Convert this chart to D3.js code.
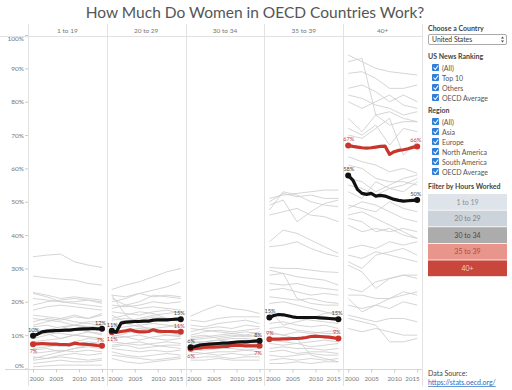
<!DOCTYPE html>
<html><head><meta charset="utf-8">
<script src="https://cdn.jsdelivr.net/npm/d3@7/dist/d3.min.js"></script>
<style>
body{margin:0;background:#fff;}
svg{display:block;font-family:Lato,"Open Sans",sans-serif;}
</style></head>
<body><svg id="c" width="512" height="390"></svg>
<script>
// ---------- DATA ----------
const bands = ["1 to 19","20 to 29","30 to 34","35 to 39","40+"];
const years = d3.range(2000,2016);
const sampleYears = [2000,2003,2006,2009,2012,2015];
const yTicks = [0,10,20,30,40,50,60,70,80,90,100];
const xTicks = [2000,2005,2010,2015];

// highlighted series (yearly, %)
const oecdSeries = [
 [9.8,10.3,11,11.2,11.3,11.4,11.4,11.5,11.5,11.7,11.8,11.9,11.9,12,11.9,11.9],
 [11.3,11,13.6,13.9,14,14.1,14.1,14.2,14.2,14.5,14.6,14.6,14.6,14.7,14.8,14.8],
 [6.4,6.6,7,7.2,7.3,7.4,7.5,7.6,7.6,7.8,7.9,8,8,8.1,8.2,8.3],
 [15.3,15.9,16.2,16.1,15.8,15.5,15.3,15.3,15.3,15.3,15.3,15.2,15.1,15,14.9,14.8],
 [57.9,56.5,53.7,52.5,52.2,52.5,51.7,51.9,51.7,51.2,50.7,50.4,50.2,50.3,50.4,50.5]
];
const usSeries = [
 [7.3,7.4,7.5,7.4,7.3,7.3,7.2,7.2,7.1,7.6,7.4,7.3,7.2,7.1,6.9,6.8],
 [10.9,10.8,11.1,11.3,11.6,11.2,11,11,11.1,11.6,11.2,11.1,11.1,11.1,11,11],
 [5.9,6,6.1,6.3,6.4,6.4,6.5,6.6,6.6,7,6.9,6.9,6.8,6.8,6.8,6.8],
 [8.8,8.8,8.8,8.9,8.9,9,9,9.1,9.3,9.6,9.7,9.6,9.5,9.4,9.2,9],
 [66.9,66.6,66.4,66.2,66.1,66.2,66.4,66.6,66.7,64.2,65,65.4,65.6,65.9,66.3,66.6]
];
const oecdLabels = [["10%","12%"],["11%","15%"],["6%","8%"],["15%","15%"],["58%","50%"]];
const usLabels = [["7%","7%"],["11%","11%"],["6%","7%"],["9%","9%"],["67%","66%"]];

// other countries (values at sampleYears, %)
const grayBand1 = [
 [33.5,34,34.3,32,31,30.3],[27.7,27.2,26.8,26.5,25.5,25],[22.8,22,21,21.5,21,20.5],
 [22.5,21.5,20,19.5,19,18.5],[21,20.5,20,20,20.5,19.5],[19,20,20.5,21,20.5,20],
 [17.5,18.5,19,18.5,18,17.5],[14,15,14.5,15.5,15,16],[13,14,15,16,15,16.5],
 [12.5,13,12,13,14,14],[15,14.5,14,13,12.5,12],[11,11.5,12.5,13,12.5,13],
 [10,10.5,9,10,11,10.5],[9,10,11,12,11,10],[8,8.5,9,10,9.5,9],[6,6.5,7,8,9,8.5],
 [5.5,6,5,6,6.5,6],[4.5,5,5.5,5,5.5,5],[3.5,3,4,4.5,4,4.5],[2.5,3,3.5,3,2.5,3],
 [1.5,2,2.5,2,2,2.5],[0.5,0.8,1,1,1,1],[7,7.5,6.5,7,8,7.5],[12,11,10.5,10,9.5,9],
 [16,15.5,15,14,13.5,13],[3,4,5,6,7,7.5]
];
const grayBand2 = [
 [23.7,25,26,27.5,29,30],[22,21.5,22.5,23.5,24.5,26],[21,19,20,22,21.5,21],
 [20,21,22.5,21.5,22,21.5],[19,18.5,19,20,19.5,20],[18,19,18,18.5,18,17.5],
 [17,16.5,16,17,17.5,16.5],[16,14,15,16,16.5,17],[14.5,15,14.5,15.5,15,15],
 [13,13.5,12.5,12,12.5,13],[12,12.5,13,13.5,13,12.5],[22,16,13,11,10,9.5],
 [10,9.5,10,9,8.5,9],[9,9.5,8.5,9.5,10,10],[8,7.5,7,7.5,8,7.5],[7,7.5,8,7,6.5,6],
 [6,5.5,5,5.5,5,5.5],[5,4,3.5,4,4.5,4],[4,3.5,3,2.5,3,3.5],[3,2,1.5,2,2.5,3],
 [11,11.5,12,11.5,11,11.5],[15,16,17,16.5,15,14],[9.5,10.5,11.5,12,11,10],[6.5,7,6,6.5,7,7]
];
const grayBand3 = [
 [15.7,17.5,19,18,17.5,16.5],[14.5,14,15,15.5,15.5,15.5],[13,12.5,13.5,14,14.5,13.5],
 [11,12,12.5,12,13,12.5],[10,11,11.5,11,11.5,12],[9,9.5,10,10.5,10,11],
 [8.5,9,9.5,10,9.5,10],[8,8,8.5,9,9,8.5],[7,7.5,7,8,8.5,8],[6.5,6,6.5,6.5,7,7.5],
 [5.5,5.5,6,6,5.5,6],[5,4.5,5,5,5.5,5],[4,4.5,4,4.5,4,4.5],[3,3.5,3.5,3,3.5,3.5],
 [2.5,2.5,3,2.5,2.5,2.5],[9.5,10,9,9.5,10,9.5],[7.5,8,8.5,8,7.5,7],[6,7,7.5,7,6.5,6.5],
 [12,11.5,11,10.5,11,10.5]
];
const grayBand4 = [
 [51,52,52.5,53,53.5,53.5],[50,52.5,51.5,52,51,51],[49,50.5,44,47,49.5,50.5],
 [47.5,53,52,50,49,48.5],[46,47,48,46,45.5,44],[38,41.5,40.5,38.5,36.5,34.5],
 [36.5,37,38,36,34.5,33.5],[30.3,30,30,29.5,29,28.8],[29.5,28.5,21,19.5,19,19],
 [28,28.5,27.5,27,26.5,25],[25.5,25,25.5,24.5,24,23.5],[23.5,24,23,22,22.5,22],
 [21.5,21,20.5,21,20,19.5],[19.5,20,19,18,17,16],[17.5,13,14,15,16.5,17],
 [16.5,16,15,14.5,14,13.5],[13.5,14,13,12.5,13,12],[12,12.5,11.5,11,10.5,10.5],
 [10.5,10,11,10.5,11,11.5],[8.5,8,7.5,8,8.5,8],[7.5,7,7.5,6.5,7,7.5],[6,6.5,6,6,5.5,6],
 [5,5.5,4.5,5,5,4.5],[4,3.5,4,4.5,4,4],[2.5,3,2.5,3,2.5,3],[1.5,1.5,2,1.5,2,2],
 [11,10,9,4,3,2]
];
const grayBand5 = [
 [94,92,90,89,88.5,88],[92,93,76,77,75,74],[88.5,89,87,84,84,85],[84,85,83,80,82,80],
 [82,81,79,78,76,77],[80,78,80,82,79,78],[75,71,76,73,74,74],[72,70,73,67,72,71],
 [70,69,72,75,64,68],[63.5,62,61,59,60,58.5],[61,60,57,56,56,55],[57,56,53,55,57,58],
 [55,54,52,54,53,56],[53,51,56,54,55,57],[49,48,47,50,48,47],[48,50,49,47,45,44],
 [46,47,45,43,41,39],[45,44,41,42,40,39],[43,41,42,41,42,41],[36,37,36,38,37,38],
 [34,33,35,34,33,32],[32,30,34,35,36,34],[31,29,24,27,28,28],[24,23,26,27,28,27],
 [22,22,21,21,22,23],[19,18,19,21,23,22],[21,17,19,18,20,19],[16,15,14,15,15,14],
 [15,14,13,8,8,9],[12,11,12,11,10,10]
];
const grayBands = [grayBand1,grayBand2,grayBand3,grayBand4,grayBand5];

const usRanking = ["(All)","Top 10","Others","OECD Average"];
const regions = ["(All)","Asia","Europe","North America","South America","OECD Average"];
const filterColors = ["#dfe4ea","#cdd3da","#acacac","#e8968b","#c8463b"];
const filterText = ["#8a9099","#7d848c","#4a4a4a","#b04a40","#f6d2cc"];

// ---------- DRAW ----------
const svg = d3.select("#c");
const plotL = 28, plotR = 422, panelW = (plotR-plotL)/5;
const y = d3.scaleLinear().domain([0,100]).range([368.5,35]);

svg.append("text").attr("x",255).attr("y",18).attr("text-anchor","middle")
  .attr("font-size",15.5).attr("fill","#555").text("How Much Do Women in OECD Countries Work?");

svg.append("line").attr("x1",0).attr("x2",plotR).attr("y1",36.5).attr("y2",36.5).attr("stroke","#e2e2e2");
svg.append("line").attr("x1",5).attr("x2",plotR).attr("y1",369.5).attr("y2",369.5).attr("stroke","#d6d6d6");
for(let i=0;i<=5;i++){
  const xx = Math.round(plotL+i*panelW)+0.5;
  svg.append("line").attr("x1",xx).attr("x2",xx).attr("y1",24).attr("y2",386).attr("stroke","#e2e2e2");
}

const yAxis = svg.append("g").attr("transform",`translate(${plotL},0)`)
 .call(d3.axisLeft(y).tickValues(yTicks).tickSize(3).tickFormat(d=>d+"%"));
yAxis.select(".domain").remove();
yAxis.selectAll(".tick line").attr("stroke","#ccc");
yAxis.selectAll(".tick text").attr("font-size",6.5).attr("fill","#777").attr("font-family","Lato,sans-serif")
  .attr("dy", d=> d===100? "0.9em" : d===0 ? "-0.2em" : "0.32em").attr("x",-4);

bands.forEach((b,i)=>{
  const left = plotL+i*panelW;
  const x = d3.scaleLinear().domain([2000,2015]).range([left+5,left+74]);
  svg.append("text").attr("x",left+panelW/2).attr("y",33).attr("text-anchor","middle")
    .attr("font-size",6.5).attr("fill","#777").text(b);
  const xa = svg.append("g").attr("transform","translate(0,369.5)")
    .call(d3.axisBottom(x).tickValues(xTicks).tickSize(3).tickFormat(d3.format("d")));
  xa.select(".domain").remove();
  xa.selectAll(".tick line").attr("stroke","#ccc");
  xa.selectAll(".tick text").attr("font-size",6.2).attr("fill","#777").attr("font-family","Lato,sans-serif").attr("dy","0.95em")
    .attr("text-anchor", d=> d===2000 ? "start" : d===2015 ? "end" : "middle")
    .attr("x", d=> d===2000 ? -4 : d===2015 ? 2 : 0);

  const gl = d3.line().x((d,k)=>x(sampleYears[k])).y(d=>y(d));
  svg.append("g").selectAll("path").data(grayBands[i]).join("path")
    .attr("d",gl).attr("fill","none").attr("stroke","#cdcdcd").attr("stroke-width",0.85);

  const hl = d3.line().x((d,k)=>x(years[k])).y(d=>y(d));
  [[usSeries[i],"#c9352c",usLabels[i]],[oecdSeries[i],"#111",oecdLabels[i]]].forEach(([s,c,lab],si)=>{
    svg.append("path").attr("d",hl(s)).attr("fill","none").attr("stroke",c)
      .attr("stroke-width",3.2).attr("stroke-linejoin","round").attr("stroke-linecap","round");
    svg.append("g").selectAll("circle").data([0,s.length-1]).join("circle")
      .attr("cx",k=>x(years[k])).attr("cy",k=>y(s[k])).attr("r",3).attr("fill",c);
    const isUS = si===0;
    const startBelow = isUS && i<3;
    const endBelow = isUS && i===2;
    svg.append("text").attr("x",x(2000)+0.5).attr("y",y(s[0])+(startBelow?9:-4))
      .attr("text-anchor","middle").attr("font-size",5.6).attr("fill",isUS?"#c9352c":"#444").text(lab[0]);
    svg.append("text").attr("x",x(2015)-1.5).attr("y",y(s[s.length-1])+(endBelow?9:-4))
      .attr("text-anchor","middle").attr("font-size",5.6).attr("fill",isUS?"#c9352c":"#444").text(lab[1]);
  });
});

// ---------- legend / filters ----------
const lg = svg.append("g");
const LX = 428;
function bold(t,yy){ lg.append("text").attr("x",LX).attr("y",yy).attr("font-size",7).attr("font-weight","bold").attr("fill","#444").text(t); }
bold("Choose a Country",31);
lg.append("rect").attr("x",LX+0.5).attr("y",34.5).attr("width",78).attr("height",10).attr("rx",1.5)
  .attr("fill","#fff").attr("stroke","#aaa");
lg.append("text").attr("x",LX+4).attr("y",42).attr("font-size",6.8).attr("fill","#333").text("United States");
lg.append("path").attr("d",`M${LX+73},38.5 l1.5,-2 l1.5,2 Z M${LX+73},40.5 l1.5,2 l1.5,-2 Z`).attr("fill","#444");

function checks(list,y0){
  list.forEach((t,k)=>{
    const yy = y0+k*10;
    lg.append("rect").attr("x",LX+4).attr("y",yy-6.5).attr("width",7).attr("height",7).attr("rx",1).attr("fill","#2f7ed8");
    lg.append("path").attr("d",`M${LX+5.5},${yy-3} l1.8,2 l3,-4`).attr("fill","none").attr("stroke","#fff").attr("stroke-width",1.1);
    lg.append("text").attr("x",LX+14).attr("y",yy).attr("font-size",7).attr("fill","#555").text(t);
  });
}
bold("US News Ranking",59);
checks(usRanking,70.5);
bold("Region",113);
checks(regions,124.5);
bold("Filter by Hours Worked",189);
bands.forEach((b,k)=>{
  const yy = 194 + k*16.6;
  lg.append("rect").attr("x",LX).attr("y",yy).attr("width",79).attr("height",15.8).attr("fill",filterColors[k]);
  lg.append("text").attr("x",LX+39.5).attr("y",yy+10.6).attr("text-anchor","middle").attr("font-size",7)
    .attr("fill",filterText[k]).text(b);
});
lg.append("text").attr("x",LX).attr("y",376).attr("font-size",7).attr("fill","#444").text("Data Source:");
lg.append("text").attr("x",LX).attr("y",385).attr("font-size",7).attr("fill","#2a6ac8")
  .attr("text-decoration","underline").text("https://stats.oecd.org/");
</script></body></html>
